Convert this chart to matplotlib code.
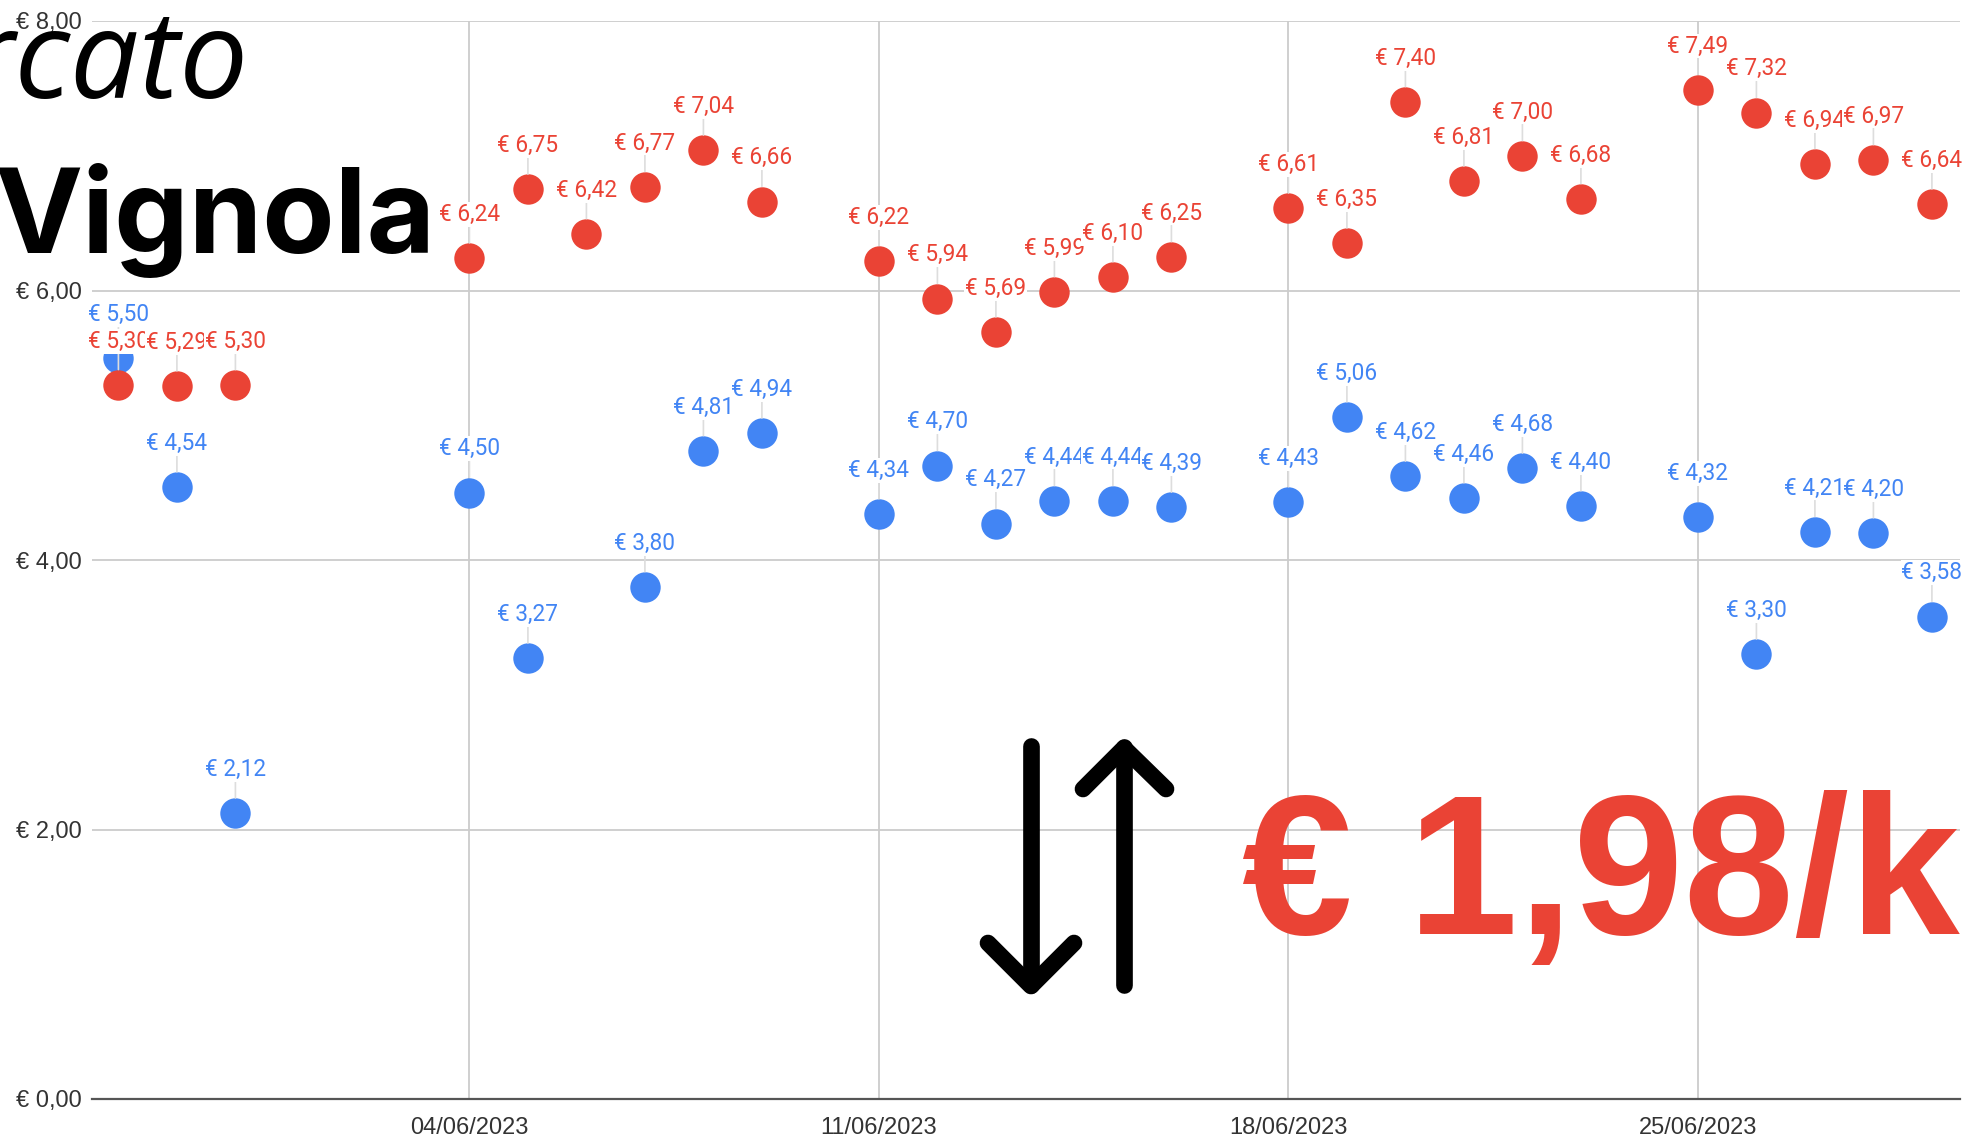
import matplotlib
matplotlib.use("Agg")
import numpy as np
import matplotlib.pyplot as plt
import matplotlib.dates as mdates
from matplotlib.lines import Line2D
from datetime import datetime, timedelta

# ---- data ----
dates = ["29/05/2023", "30/05/2023", "31/05/2023",
         "04/06/2023", "05/06/2023", "06/06/2023", "07/06/2023", "08/06/2023", "09/06/2023",
         "11/06/2023", "12/06/2023", "13/06/2023", "14/06/2023", "15/06/2023", "16/06/2023",
         "18/06/2023", "19/06/2023", "20/06/2023", "21/06/2023", "22/06/2023", "23/06/2023",
         "25/06/2023", "26/06/2023", "27/06/2023", "28/06/2023", "29/06/2023"]
red_prices = [5.30, 5.29, 5.30,
              6.24, 6.75, 6.42, 6.77, 7.04, 6.66,
              6.22, 5.94, 5.69, 5.99, 6.10, 6.25,
              6.61, 6.35, 7.40, 6.81, 7.00, 6.68,
              7.49, 7.32, 6.94, 6.97, 6.64]
blue_prices = [5.50, 4.54, 2.12,
               4.50, 3.27, None, 3.80, 4.81, 4.94,
               4.34, 4.70, 4.27, 4.44, 4.44, 4.39,
               4.43, 5.06, 4.62, 4.46, 4.68, 4.40,
               4.32, 3.30, 4.21, 4.20, 3.58]
y_ticks = [0, 2, 4, 6, 8]
x_ticks = ["04/06/2023", "11/06/2023", "18/06/2023", "25/06/2023"]

RED = "#EA4335"
BLUE = "#4285F4"
GRID = "#cccccc"
TICK = "#333333"

W, H = 1962, 1137


def px(x, y):
    """pixel (from top-left) -> figure fraction"""
    return x / W, 1 - y / H


def euro(v):
    return "\u20ac " + f"{v:.2f}".replace(".", ",")


days = [datetime.strptime(d, "%d/%m/%Y") for d in dates]

fig = plt.figure(figsize=(W / 100, H / 100), dpi=100)
x0, y1 = px(91.5, 21)
x1, y0 = px(1960, 1099)
ax = fig.add_axes([x0, y0, x1 - x0, y1 - y0])

ax.set_ylim(0, 8)
ax.set_xlim(days[0] - timedelta(days=0.46), days[-1] + timedelta(days=0.48))
ax.set_yticks(y_ticks)
ax.set_yticklabels([euro(v) for v in y_ticks])
ax.set_xticks([datetime.strptime(d, "%d/%m/%Y") for d in x_ticks])
ax.set_xticklabels(x_ticks)
for lab in ax.get_xticklabels() + ax.get_yticklabels():
    lab.set_fontfamily(["Liberation Sans", "DejaVu Sans"])
    lab.set_fontsize(17)
    lab.set_color(TICK)
ax.tick_params(axis="both", length=0)
ax.tick_params(axis="y", pad=7)
ax.tick_params(axis="x", pad=13)

for s in ("top", "right", "left"):
    ax.spines[s].set_visible(False)
ax.spines["bottom"].set_color("#555555")
ax.spines["bottom"].set_linewidth(1.6)
ax.grid(True, color=GRID, lw=1.3)
ax.set_axisbelow(True)


def draw_series(vals, color):
    xs = [d for d, v in zip(days, vals) if v is not None]
    ys = [v for v in vals if v is not None]
    ax.scatter(xs, ys, s=480, color=color, linewidths=0, zorder=3, clip_on=False)
    for d, v in zip(xs, ys):
        ax.annotate(euro(v), (d, v), xytext=(0, 26.8), textcoords="offset points",
                    ha="center", va="baseline", fontsize=16.3,
                    family=["Roboto", "DejaVu Sans"], color=color,
                    bbox=dict(boxstyle="square,pad=0.04", fc="white", ec="none"),
                    arrowprops=dict(arrowstyle="-", color="#dddddd", lw=1.2,
                                    shrinkA=0, shrinkB=11),
                    zorder=4, annotation_clip=False)


draw_series(blue_prices, BLUE)
draw_series(red_prices, RED)

# ---- overlay titles ----
fig.text(*px(249, 98), "Mercato", ha="right", va="baseline", fontsize=88,
         family=["Open Sans", "DejaVu Sans"], style="italic", color="black", zorder=10)
fig.text(*px(-6, 253), "Vignola", ha="left", va="baseline", fontsize=85,
         family=["Inter", "DejaVu Sans"], fontweight="bold", color="black", zorder=10)
fig.text(*px(1242, 934), "\u20ac 1,98/kg", ha="left", va="baseline", fontsize=143,
         family=["Liberation Sans", "DejaVu Sans"], fontweight="bold", color=RED, zorder=10)

# ---- up / down arrows ----
arrow_kw = dict(color="black", lw=12, solid_capstyle="round",
                solid_joinstyle="round", transform=fig.transFigure, zorder=10)
paths = [
    [(1031, 746), (1031, 985)],
    [(988, 943), (1031, 986), (1074, 943)],
    [(1124, 747), (1124, 985)],
    [(1083, 789), (1124, 748), (1166, 789)],
]
for p in paths:
    pts = [px(x, y) for x, y in p]
    fig.add_artist(Line2D([q[0] for q in pts], [q[1] for q in pts], **arrow_kw))

fig.savefig("out.png", dpi=100, facecolor="white")
